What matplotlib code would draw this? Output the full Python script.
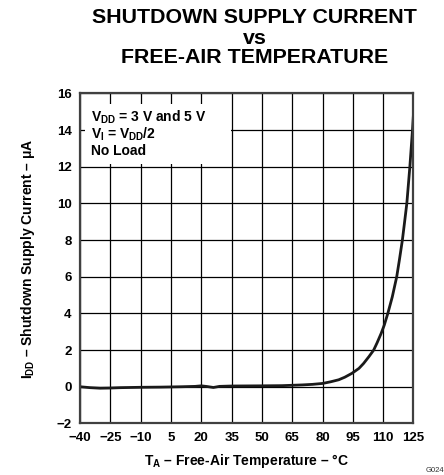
import matplotlib
matplotlib.use("Agg")
import matplotlib.pyplot as plt
from matplotlib.patches import Rectangle

plt.rcParams['font.family'] = ['Liberation Sans', 'DejaVu Sans']
plt.rcParams['font.weight'] = 'bold'
plt.rcParams['mathtext.fontset'] = 'custom'
plt.rcParams['mathtext.rm'] = 'Liberation Sans:bold'
plt.rcParams['mathtext.it'] = 'Liberation Sans:bold'
plt.rcParams['mathtext.bf'] = 'Liberation Sans:bold'
plt.rcParams['axes.unicode_minus'] = True

# Data
temperature = [-40, -35, -30, -25, -20, -10, 0, 10, 17, 20, 23, 26, 29, 35, 50, 60,
               65, 70, 75, 80, 84, 88, 91, 94.5, 98, 100.3, 103, 105.3, 107, 109,
               110.5, 112.3, 114.5, 116.7, 118, 119.5, 120.5, 121.7, 123.2, 124.5, 125]
current = [0.0, -0.05, -0.08, -0.07, -0.05, -0.03, -0.02, 0.0, 0.02, 0.05, 0.01, -0.04,
           0.02, 0.04, 0.05, 0.06, 0.08, 0.1, 0.13, 0.18, 0.27, 0.38, 0.52, 0.73, 1.0,
           1.27, 1.65, 2.0, 2.4, 2.91, 3.35, 4.0, 4.9, 6.0, 6.9, 8.0, 8.9, 10.0, 12.0,
           14.0, 14.9]
x_ticks = [-40, -25, -10, 5, 20, 35, 50, 65, 80, 95, 110, 125]
y_ticks = [-2, 0, 2, 4, 6, 8, 10, 12, 14, 16]

fig = plt.figure(figsize=(4.44, 4.75), dpi=100)
ax = fig.add_axes([0.1802, 0.1086, 0.9313 - 0.1802, 0.8034 - 0.1086])

ax.set_xlim(-40, 125)
ax.set_ylim(-2, 16)
ax.set_xticks(x_ticks)
ax.set_yticks(y_ticks)
ax.set_xticklabels([str(t).replace('-', '\u2212') for t in x_ticks], fontsize=9.5, fontweight='bold')
ax.set_yticklabels([str(t).replace('-', '\u2212') for t in y_ticks], fontsize=9.5, fontweight='bold')
ax.tick_params(length=0, pad=6)
ax.grid(True, color='black', linewidth=0.9, zorder=1)
ax.set_axisbelow(True)
for s in ax.spines.values():
    s.set_color('#404040')
    s.set_linewidth(1.6)
    s.set_zorder(5)

# white annotation box
ax.add_patch(Rectangle((0.015, 0.786), 0.438, 0.182, transform=ax.transAxes,
                       facecolor='white', edgecolor='none', zorder=2))
ax.text(0.033, 0.928, "$V_{DD}$ = 3 V and 5 V", transform=ax.transAxes,
        fontsize=10, fontweight='bold', va='center', ha='left', zorder=3)
ax.text(0.033, 0.876, "$V_{I}$ = $V_{DD}$/2", transform=ax.transAxes,
        fontsize=10, fontweight='bold', va='center', ha='left', zorder=3)
ax.text(0.033, 0.825, "No Load", transform=ax.transAxes,
        fontsize=10, fontweight='bold', va='center', ha='left', zorder=3)

ax.plot(temperature, current, color='#1a1a1a', linewidth=2.0, zorder=4,
        solid_capstyle='round')

ax.set_xlabel("$T_A$ \u2013 Free-Air Temperature \u2013 \u00b0C", fontsize=10,
              fontweight='bold', labelpad=6)
ax.set_ylabel("$I_{DD}$ \u2013 Shutdown Supply Current \u2013 \u03bcA", fontsize=10,
              fontweight='bold', labelpad=14)

fig.text(0.574, 1 - 17.5 / 475, "SHUTDOWN SUPPLY CURRENT", ha='center', va='center',
         fontsize=15.4, fontweight='bold')
fig.text(0.574, 1 - 38.5 / 475, "vs", ha='center', va='center',
         fontsize=15.4, fontweight='bold')
fig.text(0.574, 1 - 57.5 / 475, "FREE-AIR TEMPERATURE", ha='center', va='center',
         fontsize=15.4, fontweight='bold')
fig.text(435 / 444, 1 - 471 / 475, "G024", ha='center', va='center',
         fontsize=5.5, fontweight='normal', color='#333333')

fig.savefig("out.png", dpi=100)
